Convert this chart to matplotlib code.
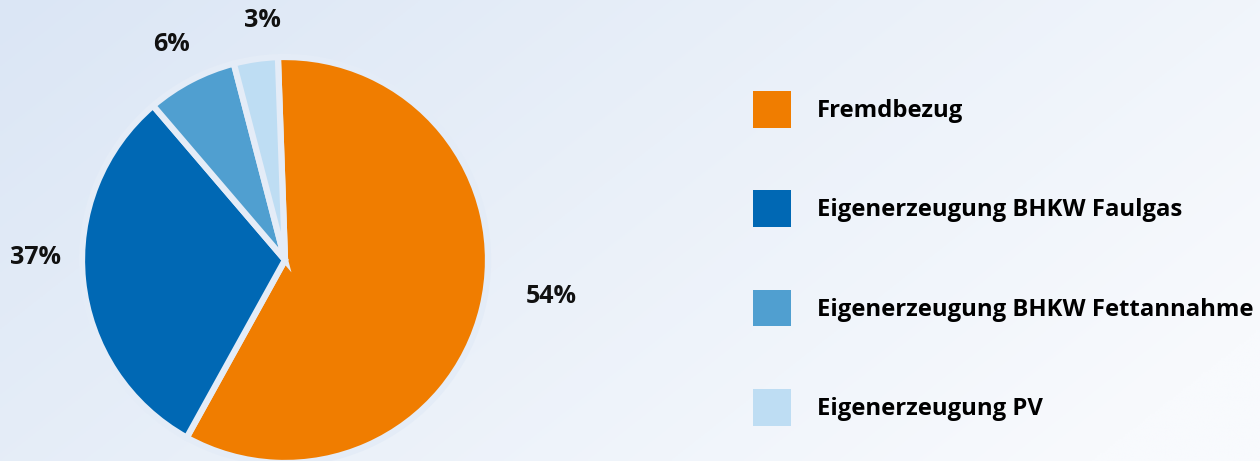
import numpy as np
import matplotlib
matplotlib.use("Agg")
import matplotlib.pyplot as plt

# Anteile wie im Bild gezeichnet, Beschriftung wie im Original
categories = ["Fremdbezug", "Eigenerzeugung BHKW Faulgas",
              "Eigenerzeugung BHKW Fettannahme", "Eigenerzeugung PV"]
shares = [58.6, 30.7, 7.2, 3.5]
pct_labels = ["54%", "37%", "6%", "3%"]
colors = ["#F07D00", "#0068B4", "#509FD0", "#BEDDF3"]

plt.rcParams["font.family"] = ["Open Sans", "DejaVu Sans"]

fig = plt.figure(figsize=(12.6, 4.61), dpi=100)

# Hintergrund mit leichtem Farbverlauf
bg = fig.add_axes([0, 0, 1, 1])
yy, xx = np.mgrid[0:1:200j, 0:1:500j]
t = np.clip(0.75 * xx + 0.35 * yy, 0, 1)
c0 = np.array([0xDB, 0xE6, 0xF5]) / 255
c1 = np.array([0xF8, 0xFA, 0xFD]) / 255
img = c0[None, None, :] * (1 - t[..., None]) + c1[None, None, :] * t[..., None]
bg.imshow(img, aspect="auto", extent=[0, 1, 0, 1], origin="upper")
bg.axis("off")

# Kreisdiagramm: Mitte bei (285, 260) px, Radius 203 px
W, H = 1260, 461
cx, cy, r = 285, 260, 203
ax = fig.add_axes([(cx - r) / W, (H - cy - r) / H, 2 * r / W, 2 * r / H])
wedges, _ = ax.pie(shares, colors=colors, startangle=92, counterclock=False,
                   wedgeprops=dict(edgecolor="#E4ECF7", linewidth=4.5))
for w in wedges:
    w.set_clip_on(False)
ax.set_xlim(-1, 1)
ax.set_ylim(-1, 1)
ax.axis("off")

label_pos = [(1.31, -0.18), (-1.23, 0.01), (-0.56, 1.06), (-0.11, 1.18)]
for txt, (lx, ly) in zip(pct_labels, label_pos):
    ax.text(lx, ly, txt, ha="center", va="center", fontsize=18,
            fontweight="bold", color="#111111")

leg = fig.legend(wedges, categories, loc="upper left",
                 bbox_to_anchor=(753 / W, 1 - 91 / H), frameon=False,
                 prop=dict(size=17.2, weight="bold"),
                 handlelength=1.57, handleheight=1.99, handletextpad=1.1,
                 labelspacing=2.62, borderaxespad=0, borderpad=0)
for h in leg.legend_handles:
    h.set_edgecolor("none")
    h.set_linewidth(0)

fig.savefig("out.png", dpi=100)
